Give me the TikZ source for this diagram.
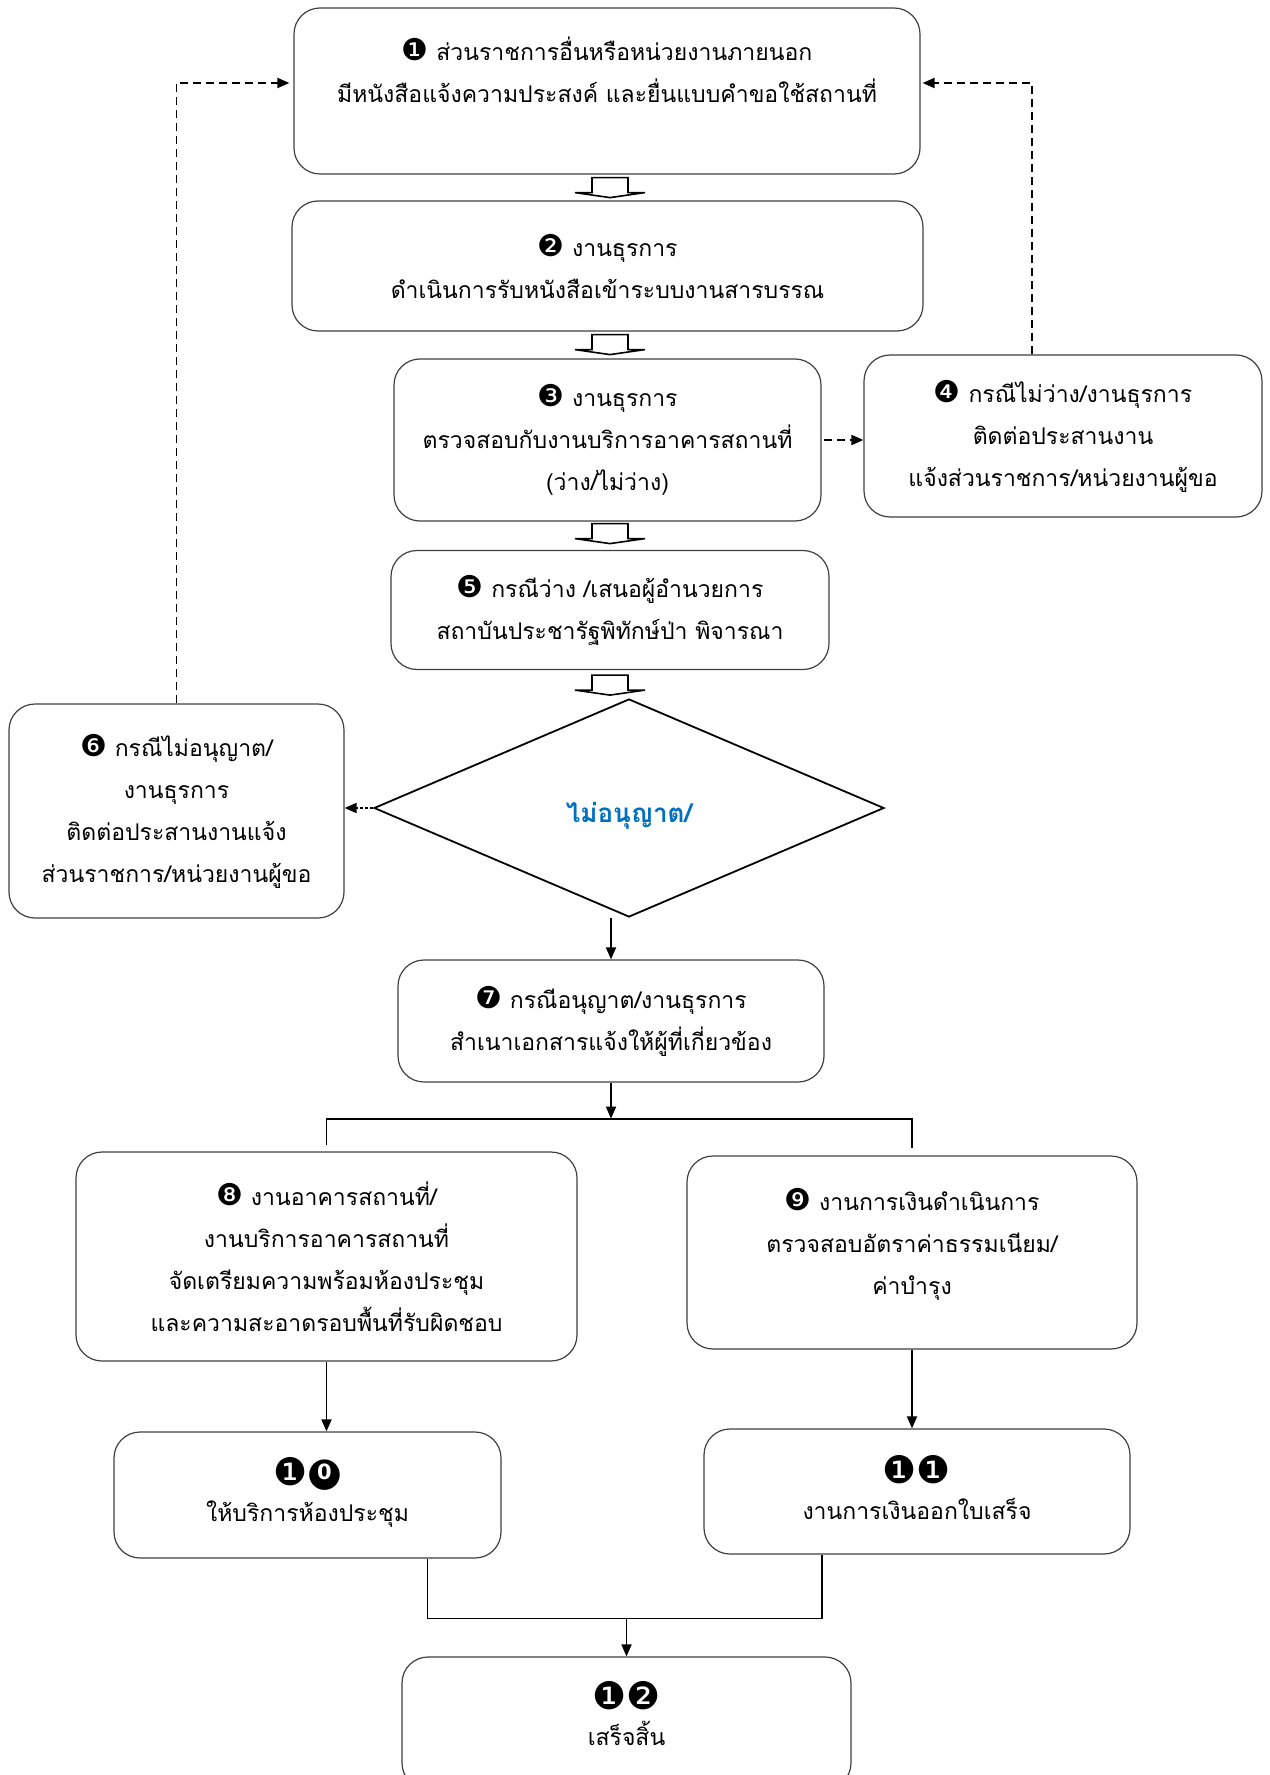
\documentclass[tikz,border=0pt]{standalone}
\usepackage{fontspec}
\newfontfamily\thaifont[Script=Thai]{Loma}
\newfontfamily\numfont{DejaVu Sans}
\usetikzlibrary{arrows.meta,calc,shapes.geometric}
\newcommand{\nbul}[1]{{\numfont\fontsize{15}{21}\selectfont #1}}
\newcommand{\bignbul}[1]{{\numfont\fontsize{19}{21}\selectfont #1}}
% no font has a negative circled zero: build it from a disc and a white 0
\newcommand{\negzero}{\ooalign{\hfil{\numfont\fontsize{20}{21}\selectfont ●}\hfil\cr
  \hfil\raisebox{2.8pt}{\color{white}\numfont\bfseries\fontsize{10.5}{21}\selectfont 0}\hfil\cr}}
\definecolor{decblue}{RGB}{0,112,192}

\tikzset{
  box/.style={draw=black!75, line width=0.6pt, rounded corners=13pt,
    align=center, inner sep=0pt, fill=white,
    font=\thaifont\fontsize{11.5}{21}\selectfont},
  decision/.style={diamond, draw, line width=0.9pt, inner sep=0pt, aspect=2.34},
  dectext/.style={text=decblue, font=\thaifont\bfseries\fontsize{13}{21}\selectfont},
  dashconn/.style={dash pattern=on 4pt off 2.5pt, line width=0.9pt,
    -{Triangle[length=6pt,width=5pt]}},
  dotconn/.style={dash pattern=on 1.5pt off 1pt, line width=0.9pt,
    -{Triangle[length=6pt,width=5pt]}},
  conn/.style={line width=0.9pt, -{Triangle[length=6pt,width=5pt]}},
  plainconn/.style={line width=0.9pt},
  hollowarrow/.pic={
    \draw[line width=0.8pt, fill=white]
      (-18,0) -- (-18,15) -- (-35,15) -- (0,20) -- (35,15) -- (18,15) -- (18,0) -- cycle;
  }
}

\begin{document}
\begin{tikzpicture}[x=0.5pt, y=-0.5pt]
    \useasboundingbox (0,0) rectangle (1269,1775);
    \clip (0,0) rectangle (1269,1775);

    % steps
    \node[box, minimum width=313pt, minimum height=83pt] (b1) at (607,91)
        {\nbul{❶} ส่วนราชการอื่นหรือหน่วยงานภายนอก\\มีหนังสือแจ้งความประสงค์ และยื่นแบบคำขอใช้สถานที่\\~};

    \node[box, minimum width=315.5pt, minimum height=65pt] (b2) at (607.5,266)
        {\nbul{❷} งานธุรการ\\ดำเนินการรับหนังสือเข้าระบบงานสารบรรณ};

    \node[box, minimum width=213.5pt, minimum height=81pt] (b3) at (607.5,440)
        {\nbul{❸} งานธุรการ\\ตรวจสอบกับงานบริการอาคารสถานที่\\(ว่าง/ไม่ว่าง)};

    \node[box, minimum width=199pt, minimum height=81pt] (b4) at (1063,436)
        {\nbul{❹} กรณีไม่ว่าง/งานธุรการ\\ติดต่อประสานงาน\\แจ้งส่วนราชการ/หน่วยงานผู้ขอ};

    \node[box, minimum width=219pt, minimum height=59.5pt] (b5) at (610,610)
        {\nbul{❺} กรณีว่าง /เสนอผู้อำนวยการ\\สถาบันประชารัฐพิทักษ์ป่า พิจารณา};

    \node[decision, minimum width=255pt, minimum height=109pt] (dia) at (629,808) {};
    \node[dectext] (diatext) at ($(dia.center)+(0,8)$) {ไม่อนุญาต/};

    \node[box, minimum width=167.5pt, minimum height=107pt] (b6) at (176.5,811)
        {\nbul{❻} กรณีไม่อนุญาต/\\งานธุรการ\\ติดต่อประสานงานแจ้ง\\ส่วนราชการ/หน่วยงานผู้ขอ};

    \node[box, minimum width=213pt, minimum height=61pt] (b7) at (611,1021)
        {\nbul{❼} กรณีอนุญาต/งานธุรการ\\สำเนาเอกสารแจ้งให้ผู้ที่เกี่ยวข้อง};

    \node[box, minimum width=250.5pt, minimum height=104.5pt] (b8) at (326.5,1256.5)
        {\nbul{❽} งานอาคารสถานที่/\\งานบริการอาคารสถานที่\\จัดเตรียมความพร้อมห้องประชุม\\และความสะอาดรอบพื้นที่รับผิดชอบ};

    \node[box, minimum width=225pt, minimum height=96.5pt] (b9) at (912,1252.5)
        {\nbul{❾} งานการเงินดำเนินการ\\ตรวจสอบอัตราค่าธรรมเนียม/\\ค่าบำรุง\\[-9.5pt]~};

    \node[box, minimum width=193.5pt, minimum height=63pt] (b10) at (307.5,1495)
        {\bignbul{❶}\negzero\\[-3pt]ให้บริการห้องประชุม\\[-15.4pt]~};

    \node[box, minimum width=213pt, minimum height=62.5pt] (b11) at (917,1491.5)
        {\bignbul{❶❶}\\[-3pt]งานการเงินออกใบเสร็จ\\[-17pt]~};

    \node[box, minimum width=224.5pt, minimum height=66pt] (b12) at (626.5,1723)
        {\bignbul{❶❷}\\[-3pt]เสร็จสิ้น\\[-11pt]~};

    % block arrows
    \pic at ($(b1.south)+(3,3)$) {hollowarrow};
    \pic at ($(b2.south)+(2.5,3)$) {hollowarrow};
    \pic at ($(b3.south)+(2.5,2)$) {hollowarrow};
    \pic at ($(b5.south)+(0,5)$) {hollowarrow};

    % feedback
    \draw[dashconn, shorten >=2pt] (b6.north) |- ($(b1.west)+(0,-8)$);
    \draw[dashconn, shorten >=1pt] ($(b4.north)+(-31,0)$) |- ($(b1.east)+(0,-8)$);
    \draw[dashconn, shorten <=1pt] (b3.east) -- (b3.east -| b4.west);
    \draw[dotconn] (dia.west) -- (dia.west -| b6.east);

    % main flow
    \draw[conn] (b7.north |- dia.south) -- (b7.north);
    \coordinate (split) at ($(b7.south)+(0,36)$);
    \draw[conn] (b7.south) -- (split);
    \draw[plainconn] ($(b8.north)+(0,-6)$) -- (b8.north |- split)
        -- (b9.north |- split) -- ($(b9.north)+(0,-7)$);
    \draw[conn] (b8.south) -- (b8.south |- b10.north);
    \draw[conn] (b9.south) -- (b9.south |- b11.north);
    \coordinate (join) at ($(b12.north)+(0,-38)$);
    \draw[plainconn] ($(b10.south)+(120,0)$) |- (join) -| ($(b11.south)+(-95,0)$);
    \draw[conn] (join) -- (b12.north);

\end{tikzpicture}
\end{document}
